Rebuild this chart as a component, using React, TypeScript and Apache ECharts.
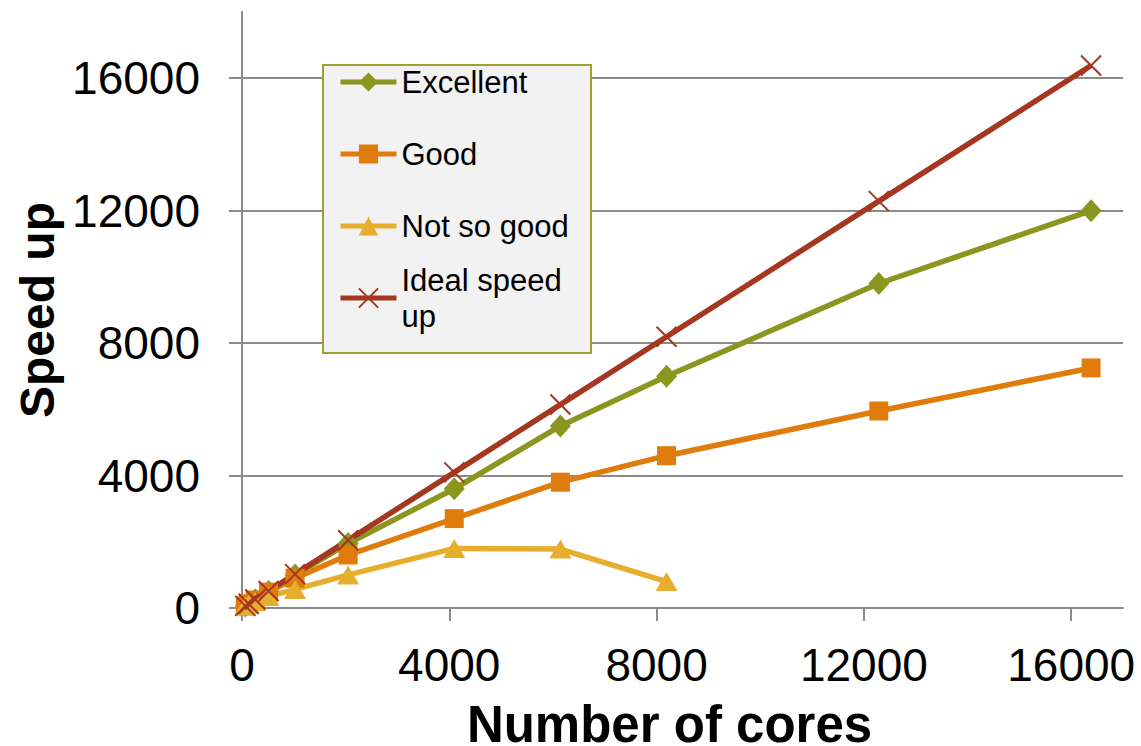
import React, { useEffect, useRef } from "react";
import * as echarts from "echarts";

// Number of cores used in each run
const cores = [64, 128, 256, 512, 1024, 2048, 4096, 6144, 8192, 12288, 16384];
// Measured speed up for each scaling profile
const excellent = [64, 128, 250, 500, 1000, 1950, 3600, 5500, 7000, 9800, 12000];
const good = [64, 125, 240, 480, 900, 1600, 2700, 3800, 4600, 5950, 7250];
const notSoGood = [60, 110, 200, 350, 560, 1000, 1800, 1780, 800];
const ideal = [64, 128, 256, 512, 1024, 2048, 4096, 6144, 8192, 12288, 16384];

const xTicks = [0, 4000, 8000, 12000, 16000];
const yTicks = [0, 4000, 8000, 12000, 16000];

const FONT = "'Liberation Sans', Arial, sans-serif";
const GRID_GREY = "#8b8b8b";
const LINE_W = 5.5;

const COLORS = {
  excellent: "#8a961e",
  good: "#e07c0c",
  notSoGood: "#e6ae2e",
  ideal: "#a5361f",
};

const pair = (xs: number[], ys: number[]) => ys.map((y, i) => [xs[i], y]);

const CROSS = "path://M0,0L10,10M10,0L0,10";

export default function App() {
  const ref = useRef<HTMLDivElement>(null);

  useEffect(() => {
    if (!ref.current) return;
    const chart = echarts.init(ref.current, null, { renderer: "svg" });

    const legendText = {
      fontFamily: FONT,
      fontSize: 31,
      lineHeight: 36,
      color: "#000",
    };
    const legendBase = {
      orient: "vertical",
      left: 338,
      padding: 0,
      itemWidth: 56,
      itemHeight: 24,
      z: 5,
      textStyle: legendText,
      lineStyle: { width: 5 },
      selectedMode: false,
    };

    chart.setOption({
      animation: false,
      backgroundColor: "#fff",
      textStyle: { fontFamily: FONT },
      grid: {
        left: 242,
        right: 18,
        top: 12,
        bottom: 138,
        containLabel: false,
        outerBoundsMode: "none",
      },
      xAxis: {
        type: "value",
        min: 0,
        max: 17000,
        name: "Number of cores",
        nameLocation: "middle",
        nameGap: 94,
        nameTextStyle: {
          fontFamily: FONT,
          fontSize: 51,
          lineHeight: 44,
          fontWeight: "bold",
          color: "#000",
          padding: [0, 26, 0, 0],
        },
        axisLine: { lineStyle: { color: GRID_GREY, width: 2 } },
        axisTick: {
          show: true,
          inside: false,
          length: 13,
          customValues: xTicks,
          lineStyle: { color: GRID_GREY, width: 2 },
        },
        axisLabel: {
          customValues: xTicks,
          formatter: (v: number) => String(v),
          fontFamily: FONT,
          fontSize: 46,
          color: "#000",
          margin: 34,
        },
        splitLine: { show: false },
      },
      yAxis: {
        type: "value",
        min: 0,
        max: 18000,
        name: "Speed up",
        nameLocation: "middle",
        nameGap: 180,
        nameTextStyle: {
          fontFamily: FONT,
          fontSize: 48,
          fontWeight: "bold",
          color: "#000",
        },
        axisLine: { show: true, lineStyle: { color: GRID_GREY, width: 2 } },
        axisTick: {
          show: true,
          inside: false,
          length: 13,
          customValues: yTicks,
          lineStyle: { color: GRID_GREY, width: 2 },
        },
        axisLabel: {
          customValues: yTicks,
          formatter: (v: number) => String(v),
          fontFamily: FONT,
          fontSize: 46,
          color: "#000",
          margin: 42,
        },
        splitLine: {
          show: true,
          lineStyle: { color: GRID_GREY, width: 2 },
        },
      },
      graphic: [
        {
          type: "rect",
          left: 322,
          top: 64,
          z: 3,
          shape: { width: 268, height: 288 },
          style: { fill: "#f2f2f2", stroke: "#9da231", lineWidth: 2 },
        },
      ],
      legend: [
        {
          ...legendBase,
          data: ["Excellent", "Good", "Not so good"],
          top: 64,
          itemGap: 36,
        },
        {
          ...legendBase,
          data: [
            {
              name: "Ideal speed up",
              textStyle: { ...legendText, padding: [36, 0, 0, 0] },
            },
          ],
          formatter: () => "Ideal speed\nup",
          top: 244,
        },
      ],
      series: [
        {
          name: "Excellent",
          type: "line",
          data: pair(cores, excellent),
          symbol: "diamond",
          symbolSize: [21, 23],
          lineStyle: { color: COLORS.excellent, width: LINE_W },
          itemStyle: { color: COLORS.excellent },
          z: 2,
        },
        {
          name: "Good",
          type: "line",
          data: pair(cores, good),
          symbol: "rect",
          symbolSize: 19,
          lineStyle: { color: COLORS.good, width: LINE_W },
          itemStyle: { color: COLORS.good },
          z: 2,
        },
        {
          name: "Not so good",
          type: "line",
          data: pair(cores, notSoGood),
          symbol: "triangle",
          symbolSize: [22, 19],
          lineStyle: { color: COLORS.notSoGood, width: LINE_W },
          itemStyle: { color: COLORS.notSoGood },
          z: 2,
        },
        {
          name: "Ideal speed up",
          type: "line",
          data: pair(cores, ideal),
          symbol: CROSS,
          symbolSize: 20,
          lineStyle: { color: COLORS.ideal, width: LINE_W },
          itemStyle: {
            color: "none",
            borderColor: COLORS.ideal,
            borderWidth: 2,
          },
          z: 2,
        },
      ],
    });

    return () => chart.dispose();
  }, []);

  return (
    <div
      ref={ref}
      style={{ position: "fixed", left: 0, top: 0, width: 1141, height: 746 }}
    />
  );
}
